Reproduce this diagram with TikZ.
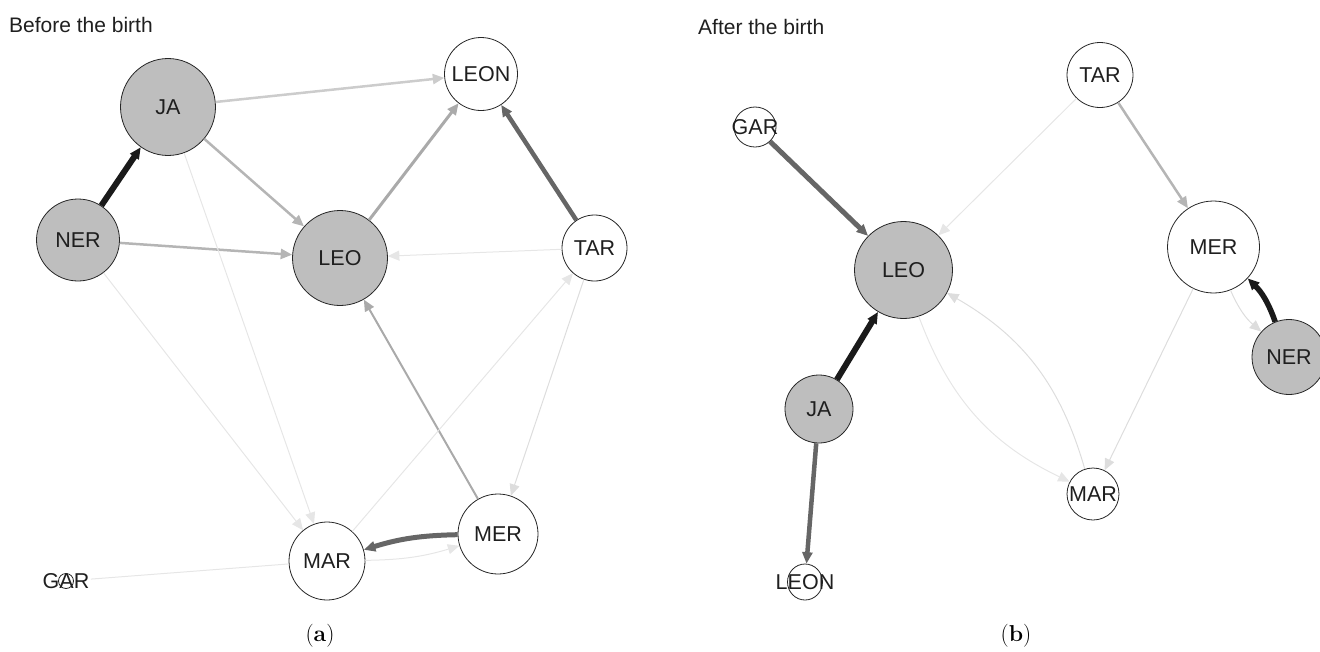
\documentclass[tikz,border=0pt]{standalone}
\usepackage{fontspec}
\newfontfamily\arialf{Liberation Sans}
\usetikzlibrary{arrows.meta,shapes.geometric}
\definecolor{nodegray}{HTML}{BEBEBE}
\definecolor{ek}{HTML}{1A1A1A}
\definecolor{ed}{HTML}{666666}
\definecolor{eA}{HTML}{AAAAAA}
\definecolor{eB}{HTML}{B5B5B5}
\definecolor{eC}{HTML}{CCCCCC}
\definecolor{eD}{HTML}{DDDDDD}
\definecolor{eE}{HTML}{E6E6E6}
\begin{document}
\begin{tikzpicture}[x=1pt,y=-1pt,
  base/.style={ellipse, draw=black!85, line width=0.8pt, inner sep=0pt},
  gnode/.style={base, fill=nodegray},
  wnode/.style={base, fill=white},
  lbl/.style={font=\arialf\fontsize{21.5}{25}\selectfont, text=black!88, inner sep=0pt},
  ttl/.style={font=\arialf\fontsize{21}{25}\selectfont, text=black!88, inner sep=0pt, anchor=west},
  captxt/.style={font=\fontsize{23}{27}\selectfont, inner sep=0pt},
  edge/.style={-{Triangle[length=11.5pt,width=10pt]}},
  sz/.style 2 args={minimum width=#1pt, minimum height=#2pt}
]
\useasboundingbox (0,0) rectangle (1320,651);
\clip (0,0) rectangle (1320,651);

% ---------- (a) Before the birth ----------
\node[ttl] (ta) at (9,25) {Before the birth};
\node[gnode, sz={95}{97}, label={[lbl]center:JA}] (lJA) at (168,107) {};
\node[gnode, sz={83}{82}, label={[lbl]center:NER}] (lNER) at (78,240) {};
\node[gnode, sz={95}{95}, label={[lbl]center:LEO}] (lLEO) at (340,258) {};
\node[wnode, sz={73}{73}, label={[lbl]center:LEON}] (lLEON) at (481,74) {};
\node[wnode, sz={65}{66}, label={[lbl]center:TAR}] (lTAR) at (594.5,248) {};
\node[wnode, sz={80}{80}, label={[lbl]center:MER}] (lMER) at (498,534) {};
\node[wnode, sz={76}{78}, label={[lbl]center:MAR}] (lMAR) at (327,561) {};
\node[wnode, sz={15}{15}, label={[lbl]center:GAR}] (lGAR) at (66,581) {};
\node[captxt] (ca) at (320,636) {(\textbf{a})};

\draw[edge, ek, line width=6pt] (lNER) -- (lJA);
\draw[edge, eC, line width=2.5pt] (lJA) -- (lLEON);
\draw[edge, eB, line width=2.5pt] (lJA) -- (lLEO);
\draw[edge, eB, line width=2.5pt] (lNER) -- (lLEO);
\draw[edge, eA, line width=3pt] (lLEO) -- (lLEON);
\draw[edge, ed, line width=4.5pt] (lTAR) -- (lLEON);
\draw[edge, eE, line width=1pt] (lTAR) -- (lLEO);
\draw[edge, eE, line width=1pt] (lNER) -- (lMAR);
\draw[edge, eE, line width=1pt] (lJA) -- (lMAR);
\draw[edge, eA, line width=2pt] (lMER) -- (lLEO);
\draw[edge, eE, line width=1pt] (lMAR) -- (lTAR);
\draw[edge, eD, line width=1pt] (lTAR) -- (lMER);
\draw[edge, ed, line width=5pt] (lMER) to[bend right=8] (lMAR);
\draw[edge, eE, line width=1pt] (lMAR) to[bend right=8] (lMER);
\draw[eE, line width=1pt, shorten >=17pt] (lMAR) -- (lGAR);

% ---------- (b) After the birth ----------
\node[ttl] (tb) at (698,27) {After the birth};
\node[wnode, sz={66}{65}, label={[lbl]center:TAR}] (rTAR) at (1100,75) {};
\node[wnode, sz={42}{40}, label={[lbl]center:GAR}] (rGAR) at (755,127) {};
\node[gnode, sz={98}{97}, label={[lbl]center:LEO}] (rLEO) at (903.5,270) {};
\node[wnode, sz={92}{92}, label={[lbl]center:MER}] (rMER) at (1213.5,247) {};
\node[gnode, sz={74}{75}, label={[lbl]center:NER}] (rNER) at (1289,357) {};
\node[gnode, sz={68}{68}, label={[lbl]center:JA}] (rJA) at (819,409) {};
\node[wnode, sz={52}{52}, label={[lbl]center:MAR}] (rMAR) at (1093,494) {};
\node[wnode, sz={35}{36}, label={[lbl]center:LEON}] (rLEON) at (805,582) {};
\node[captxt] (cb) at (1016,636) {(\textbf{b})};

\draw[edge, ed, line width=5pt] (rGAR) -- (rLEO);
\draw[edge, eE, line width=1pt] (rTAR) -- (rLEO);
\draw[edge, eB, line width=2.5pt] (rTAR) -- (rMER);
\draw[edge, ek, line width=5.5pt] (rNER) to[bend right=13] (rMER);
\draw[edge, eD, line width=1pt] (rMER) to[bend right=13] (rNER);
\draw[edge, eD, line width=1pt] (rMER) -- (rMAR);
\draw[edge, eE, line width=1pt] (rLEO) to[bend right=22] (rMAR);
\draw[edge, eD, line width=1pt] (rMAR) to[bend right=22] (rLEO);
\draw[edge, ek, line width=6pt] (rJA) -- (rLEO);
\draw[edge, ed, line width=4.5pt] (rJA) -- (rLEON);
\end{tikzpicture}
\end{document}
